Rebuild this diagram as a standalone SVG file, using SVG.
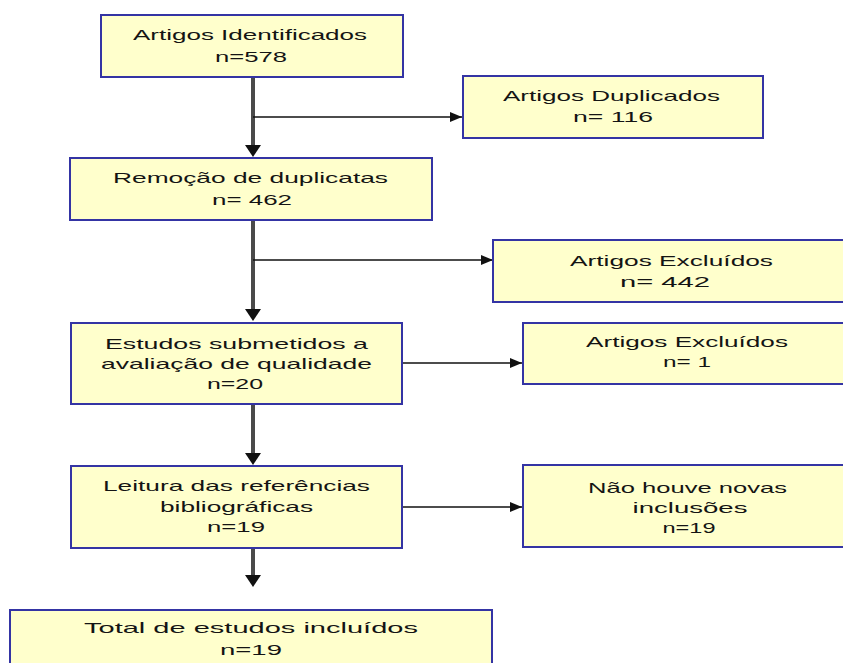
<svg xmlns="http://www.w3.org/2000/svg" width="843" height="663" viewBox="0 0 843 663">
<defs>
<style>
.box{fill:#FFFFCC;stroke:#3434A4;stroke-width:2}
.sh{fill:none;stroke:#9A9AC0;stroke-width:1.5}
.t{font-family:"Liberation Sans",Arial,sans-serif;font-size:15px;fill:#141414;text-anchor:middle}
.v{stroke:#4A4A4A;stroke-width:4;fill:none}
.h{stroke:#111;stroke-width:1.6;fill:none}
</style>
<marker id="ah" viewBox="0 0 12 10" refX="12" refY="5" markerWidth="12" markerHeight="10" markerUnits="userSpaceOnUse" orient="auto">
<path d="M0,0 L12,5 L0,10 Z" fill="#111"/>
</marker>
<marker id="av" viewBox="0 0 14 12" refX="12" refY="7" markerWidth="14" markerHeight="12" markerUnits="userSpaceOnUse" orient="auto">
<path d="M0,0 L12,7 L0,14 Z" fill="#111"/>
</marker>
</defs>
<rect width="843" height="663" fill="#fff"/>
<g id="connectors">
<line class="v" x1="253" y1="77" x2="253" y2="145"/>
<path d="M245,145 L261,145 L253,157 Z" fill="#111"/>
<line class="h" x1="253" y1="117" x2="462" y2="117" marker-end="url(#ah)"/>
<line class="v" x1="253" y1="220" x2="253" y2="309"/>
<path d="M245,309 L261,309 L253,321 Z" fill="#111"/>
<line class="h" x1="253" y1="260" x2="493" y2="260" marker-end="url(#ah)"/>
<line class="v" x1="253" y1="404" x2="253" y2="453"/>
<path d="M245,453 L261,453 L253,465 Z" fill="#111"/>
<line class="h" x1="402" y1="363" x2="522" y2="363" marker-end="url(#ah)"/>
<line class="v" x1="253" y1="548" x2="253" y2="575"/>
<path d="M245,575 L261,575 L253,587 Z" fill="#111"/>
<line class="h" x1="402" y1="507" x2="522" y2="507" marker-end="url(#ah)"/>
</g>
<g id="n1">
<rect class="box" x="101" y="15" width="302" height="62"/>
<text class="t" x="250" y="40" textLength="234" lengthAdjust="spacingAndGlyphs">Artigos Identificados</text>
<text class="t" x="251" y="62" textLength="72" lengthAdjust="spacingAndGlyphs">n=578</text>
</g>
<g id="n2">
<rect class="box" x="463" y="76" width="300" height="62"/>
<text class="t" x="611.5" y="101" textLength="217" lengthAdjust="spacingAndGlyphs">Artigos Duplicados</text>
<text class="t" x="613" y="122" textLength="80" lengthAdjust="spacingAndGlyphs">n= 116</text>
</g>
<g id="n3">
<rect class="box" x="70" y="158" width="362" height="62"/>
<text class="t" x="250.5" y="183" textLength="275" lengthAdjust="spacingAndGlyphs">Remoção de duplicatas</text>
<text class="t" x="252" y="205" textLength="80" lengthAdjust="spacingAndGlyphs">n= 462</text>
</g>
<g id="n4">
<rect class="box" x="493" y="240" width="357" height="62"/>
<text class="t" x="671.5" y="266" textLength="203" lengthAdjust="spacingAndGlyphs">Artigos Excluídos</text>
<text class="t" x="665" y="287" textLength="90" lengthAdjust="spacingAndGlyphs">n= 442</text>
</g>
<g id="n5">
<rect class="box" x="71" y="323" width="331" height="81"/>
<text class="t" x="236.5" y="349" textLength="263" lengthAdjust="spacingAndGlyphs">Estudos submetidos a</text>
<text class="t" x="236.5" y="369" textLength="271" lengthAdjust="spacingAndGlyphs">avaliação de qualidade</text>
<text class="t" x="235" y="389" textLength="56" lengthAdjust="spacingAndGlyphs">n=20</text>
</g>
<g id="n6">
<rect class="box" x="523" y="323" width="328" height="61"/>
<text class="t" x="687" y="347" textLength="202" lengthAdjust="spacingAndGlyphs">Artigos Excluídos</text>
<text class="t" x="687" y="367" textLength="48" lengthAdjust="spacingAndGlyphs">n= 1</text>
</g>
<g id="n7">
<rect class="box" x="71" y="466" width="331" height="82"/>
<text class="t" x="236.5" y="491" textLength="267" lengthAdjust="spacingAndGlyphs">Leitura das referências</text>
<text class="t" x="236.5" y="512" textLength="153" lengthAdjust="spacingAndGlyphs">bibliográficas</text>
<text class="t" x="236" y="532" textLength="58" lengthAdjust="spacingAndGlyphs">n=19</text>
</g>
<g id="n8">
<rect class="box" x="523" y="465" width="328" height="82"/>
<text class="t" x="687.5" y="493" textLength="199" lengthAdjust="spacingAndGlyphs">Não houve novas</text>
<text class="t" x="690" y="513" textLength="115" lengthAdjust="spacingAndGlyphs">inclusões</text>
<text class="t" x="689" y="533" textLength="53" lengthAdjust="spacingAndGlyphs">n=19</text>
</g>
<g id="n9">
<rect class="box" x="10" y="610" width="482" height="70"/>
<text class="t" x="251" y="633" textLength="334" lengthAdjust="spacingAndGlyphs">Total de estudos incluídos</text>
<text class="t" x="251" y="655" textLength="62" lengthAdjust="spacingAndGlyphs">n=19</text>
</g>
</svg>
